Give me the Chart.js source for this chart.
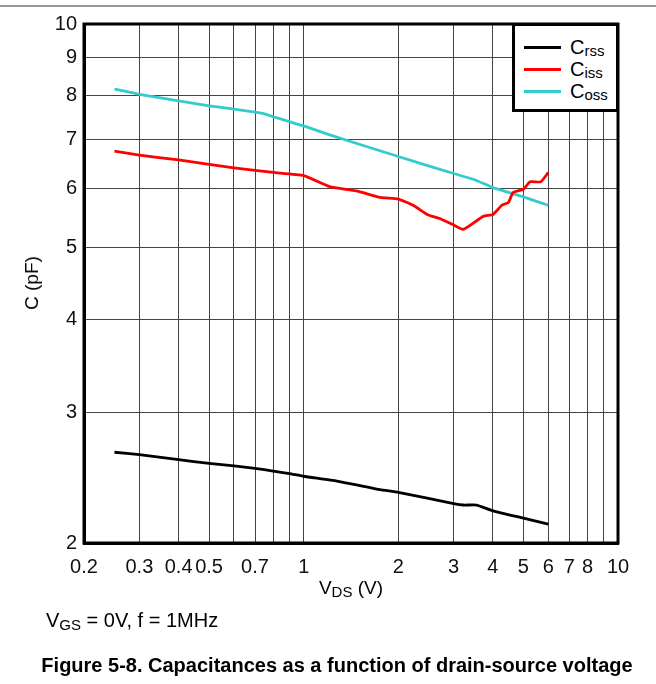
<!DOCTYPE html>
<html>
<head>
<meta charset="utf-8">
<script src="https://cdn.jsdelivr.net/npm/chart.js@4"></script>
<style>
  body { margin: 0; background: #fff; }
  #wrap { position: relative; width: 656px; height: 684px; font-family: "Liberation Sans", Arial, sans-serif; color: #000; }
  #topline { position: absolute; left: 0; top: 5px; width: 656px; height: 2px; background: #999; }
  .txt { position: absolute; font-size: 20px; line-height: 20px; white-space: nowrap; }
  .txt sub { font-size: 15px; vertical-align: -3px; line-height: 0; }
  #ytitle { left: 32px; top: 283px; transform: translate(-50%, -50%) rotate(-90deg); font-size: 19px; }
  #xtitle { left: 351px; top: 588px; transform: translate(-50%, -50%); font-size: 19px; }
  #cond { left: 46px; top: 610px; }
  #caption { left: 337px; top: 655px; transform: translateX(-50%); font-weight: bold; }
  #legend { position: absolute; left: 512px; top: 23px; width: 107px; height: 89px; box-sizing: border-box;
            border: 3px solid #000; background: #fff; }
  .item { position: absolute; left: 9px; height: 20px; }
  .item .sw { position: absolute; left: 0; top: 9px; width: 37px; height: 3px; }
  .item .lb { position: absolute; left: 46px; top: 0; font-size: 20px; line-height: 20px; }
  .item .lb sub { font-size: 15px; vertical-align: -2px; line-height: 0; }
</style>
</head>
<body>
<div id="wrap">
  <div id="topline"></div>
  <canvas id="chart" width="656" height="684"></canvas>
  <div class="txt" id="ytitle">C (pF)</div>
  <div class="txt" id="xtitle">V<sub>DS</sub> (V)</div>
  <div class="txt" id="cond">V<sub>GS</sub> = 0V, f = 1MHz</div>
  <div class="txt" id="caption">Figure 5-8. Capacitances as a function of drain-source voltage</div>
  <div id="legend"></div>
</div>
<script>
// Data (V_DS dalam volt, C dalam pF)
const crssV = [0.25, 0.3, 0.4, 0.5, 0.6, 0.7, 0.8, 0.9, 1.0, 1.3, 1.75, 2.0, 3.0, 3.22, 3.55, 3.77, 4.0, 5.0, 6.0];
const crssC = [2.65, 2.63, 2.59, 2.56, 2.54, 2.52, 2.50, 2.48, 2.46, 2.42, 2.36, 2.34, 2.26, 2.25, 2.25, 2.23, 2.21, 2.16, 2.12];

const cissV = [0.25, 0.3, 0.4, 0.5, 0.6, 0.7, 0.8, 1.0, 1.21, 1.47, 1.75, 2.0, 2.23, 2.49, 2.71, 3.0, 3.22, 3.73, 4.0, 4.27, 4.48, 4.64, 5.0, 5.25, 5.68, 6.0];
const cissC = [6.74, 6.66, 6.56, 6.47, 6.40, 6.35, 6.31, 6.25, 6.04, 5.96, 5.84, 5.81, 5.70, 5.53, 5.47, 5.36, 5.29, 5.51, 5.54, 5.70, 5.75, 5.93, 5.99, 6.13, 6.13, 6.31];

const cossV = [0.25, 0.3, 0.4, 0.5, 0.6, 0.7, 0.75, 0.8, 0.9, 1.0, 1.21, 2.0, 3.0, 3.5, 4.0, 5.0, 6.0];
const cossC = [8.17, 8.04, 7.88, 7.76, 7.68, 7.61, 7.57, 7.50, 7.39, 7.29, 7.09, 6.63, 6.29, 6.17, 6.02, 5.85, 5.70];

const seriesSub = ['rss', 'iss', 'oss'];
const seriesColor = ['#000000', '#ff0000', '#33cccc'];

// Tick dan label sumbu
const xTicks = [0.2, 0.3, 0.4, 0.5, 0.6, 0.7, 0.8, 0.9, 1, 2, 3, 4, 5, 6, 7, 8, 9, 10];
const xLabels = [0.2, 0.3, 0.4, 0.5, 0.7, 1, 2, 3, 4, 5, 6, 7, 8, 10];
const yTicks = [2, 3, 4, 5, 6, 7, 8, 9, 10];

function toPoints(xs, ys) {
    return xs.map((x, i) => ({ x: x, y: ys[i] }));
}

const fontTick = { family: '"Liberation Sans", Arial, sans-serif', size: 20 };

// Garis bingkai tebal di sekeliling area plot
const frame = {
    id: 'frame',
    afterDraw(chart) {
        const a = chart.chartArea;
        const ctx = chart.ctx;
        ctx.save();
        ctx.strokeStyle = '#000';
        ctx.lineWidth = 3;
        ctx.strokeRect(a.left, a.top, a.right - a.left, a.bottom - a.top);
        ctx.restore();
    }
};

const chart = new Chart(document.getElementById('chart'), {
    type: 'line',
    data: {
        datasets: [
            { label: 'C' + seriesSub[0], data: toPoints(crssV, crssC), borderColor: seriesColor[0] },
            { label: 'C' + seriesSub[1], data: toPoints(cissV, cissC), borderColor: seriesColor[1] },
            { label: 'C' + seriesSub[2], data: toPoints(cossV, cossC), borderColor: seriesColor[2] }
        ]
    },
    options: {
        responsive: false,
        animation: false,
        devicePixelRatio: 1,
        layout: { padding: { top: 24, right: 38, left: 0, bottom: 0 } },
        elements: {
            point: { radius: 0 },
            line: { borderWidth: 2.8, tension: 0.15, fill: false }
        },
        plugins: { legend: { display: false }, tooltip: { enabled: false } },
        scales: {
            x: {
                type: 'logarithmic',
                min: 0.2,
                max: 10,
                afterBuildTicks: (s) => { s.ticks = xTicks.map(v => ({ value: v })); },
                afterFit: (s) => { s.height = 141; },
                grid: { color: '#444', lineWidth: 1, drawTicks: false },
                border: { color: '#000', width: 3 },
                ticks: {
                    autoSkip: false,
                    maxRotation: 0,
                    padding: 12,
                    color: '#111',
                    font: fontTick,
                    callback: (v) => xLabels.includes(v) ? String(v) : ''
                }
            },
            y: {
                type: 'logarithmic',
                min: 2,
                max: 10,
                afterBuildTicks: (s) => { s.ticks = yTicks.map(v => ({ value: v })); },
                afterFit: (s) => { s.width = 84; },
                grid: { color: '#444', lineWidth: 1, drawTicks: false },
                border: { color: '#000', width: 3 },
                ticks: {
                    autoSkip: false,
                    padding: 7,
                    color: '#111',
                    font: fontTick,
                    callback: (v) => String(v)
                }
            }
        }
    },
    plugins: [frame]
});

// Legend HTML supaya subscript bisa tampil
const legendTops = [11, 33, 55];
document.getElementById('legend').innerHTML = chart.data.datasets.map((ds, i) => `
    <div class="item" style="top:${legendTops[i]}px">
        <div class="sw" style="background:${ds.borderColor}"></div>
        <div class="lb">C<sub>${seriesSub[i]}</sub></div>
    </div>
`).join('');
</script>
</body>
</html>
